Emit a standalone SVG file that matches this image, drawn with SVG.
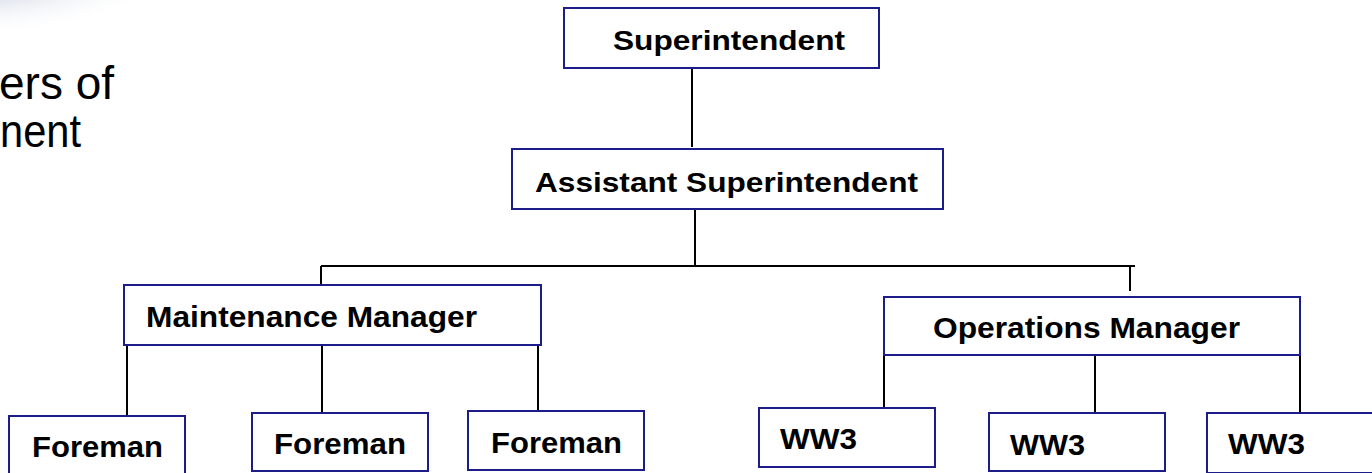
<svg xmlns="http://www.w3.org/2000/svg" width="1372" height="473" viewBox="0 0 1372 473">
  <style>
    .box { fill: #ffffff; stroke: #1c1c8a; stroke-width: 2; }
    .lbl { font-family: "Liberation Sans", Arial, sans-serif; font-weight: bold; fill: #000000; }
    .big { font-family: "Liberation Sans", Arial, sans-serif; fill: #000000; font-size: 46px; }
    .conn line { stroke: #000000; stroke-width: 2; }
  </style>
  <defs>
    <radialGradient id="corner" cx="0.25" cy="0.1" r="0.75">
      <stop offset="0" stop-color="#b9c3d6" stop-opacity="1"/>
      <stop offset="0.45" stop-color="#d6dce7" stop-opacity="0.8"/>
      <stop offset="1" stop-color="#ffffff" stop-opacity="0"/>
    </radialGradient>
  </defs>
  <rect x="0" y="0" width="1372" height="473" fill="#ffffff"/>
  <ellipse cx="35" cy="5" rx="140" ry="45" fill="url(#corner)"/>

  <text class="big" x="-1" y="99">ers of</text>
  <text class="big" x="0" y="147" textLength="81" lengthAdjust="spacingAndGlyphs">nent</text>

  <g id="connectors" class="conn">
    <line x1="692" y1="68" x2="692" y2="147"/>
    <line x1="695" y1="209" x2="695" y2="266"/>
    <line x1="321" y1="266" x2="1135" y2="266"/>
    <line x1="321" y1="266" x2="321" y2="285"/>
    <line x1="1130" y1="266" x2="1130" y2="291"/>
    <line x1="127" y1="345" x2="127" y2="416"/>
    <line x1="322" y1="341" x2="322" y2="413"/>
    <line x1="538" y1="341" x2="538" y2="413"/>
    <line x1="884" y1="355" x2="884" y2="408"/>
    <line x1="1095" y1="352" x2="1095" y2="413"/>
    <line x1="1300" y1="342" x2="1300" y2="413"/>
  </g>

  <g id="superintendent">
    <rect class="box" x="564" y="8" width="315" height="60"/>
    <text class="lbl" x="613" y="50" font-size="27" textLength="232" lengthAdjust="spacingAndGlyphs">Superintendent</text>
  </g>
  <g id="assistant-superintendent">
    <rect class="box" x="512" y="149" width="431" height="60"/>
    <text class="lbl" x="535" y="192" font-size="27" textLength="383" lengthAdjust="spacingAndGlyphs">Assistant Superintendent</text>
  </g>
  <g id="maintenance-manager">
    <rect class="box" x="124" y="285" width="417" height="60"/>
    <text class="lbl" x="146" y="327" font-size="29" textLength="331" lengthAdjust="spacingAndGlyphs">Maintenance Manager</text>
  </g>
  <g id="operations-manager">
    <rect class="box" x="884" y="297" width="416" height="58"/>
    <text class="lbl" x="933" y="338" font-size="29" textLength="307" lengthAdjust="spacingAndGlyphs">Operations Manager</text>
  </g>
  <g id="foreman-1">
    <rect class="box" x="9" y="416" width="176" height="60"/>
    <text class="lbl" x="32" y="457" font-size="29" textLength="131" lengthAdjust="spacingAndGlyphs">Foreman</text>
  </g>
  <g id="foreman-2">
    <rect class="box" x="252" y="413" width="176" height="58"/>
    <text class="lbl" x="274" y="454" font-size="29" textLength="132" lengthAdjust="spacingAndGlyphs">Foreman</text>
  </g>
  <g id="foreman-3">
    <rect class="box" x="468" y="411" width="176" height="59"/>
    <text class="lbl" x="491" y="453" font-size="29" textLength="131" lengthAdjust="spacingAndGlyphs">Foreman</text>
  </g>
  <g id="ww3-1">
    <rect class="box" x="759" y="408" width="176" height="59"/>
    <text class="lbl" x="780" y="449" font-size="29" textLength="77" lengthAdjust="spacingAndGlyphs">WW3</text>
  </g>
  <g id="ww3-2">
    <rect class="box" x="989" y="413" width="176" height="58"/>
    <text class="lbl" x="1010" y="455" font-size="29" textLength="75" lengthAdjust="spacingAndGlyphs">WW3</text>
  </g>
  <g id="ww3-3">
    <rect class="box" x="1207" y="413" width="176" height="60"/>
    <text class="lbl" x="1228" y="454" font-size="29" textLength="77" lengthAdjust="spacingAndGlyphs">WW3</text>
  </g>
</svg>
